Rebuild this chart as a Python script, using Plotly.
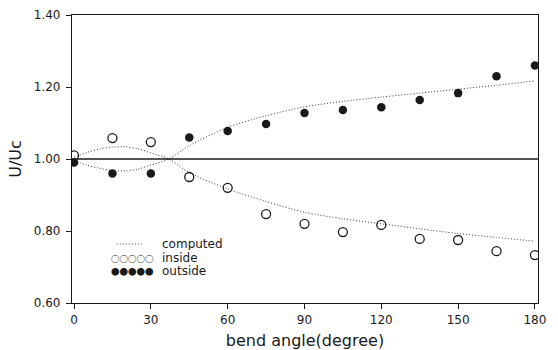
import plotly.graph_objects as go

# measured data
angle = [0, 15, 30, 45, 60, 75, 90, 105, 120, 135, 150, 165, 180]
inside = [1.01, 1.058, 1.047, 0.95, 0.92, 0.847, 0.82, 0.797, 0.817, 0.778, 0.775, 0.744, 0.733]
outside = [0.99, 0.96, 0.96, 1.06, 1.078, 1.097, 1.128, 1.136, 1.144, 1.164, 1.183, 1.23, 1.26]

# computed curves
comp_x = [0, 5, 10, 15, 20, 25, 30, 37, 45, 60, 75, 90, 105, 120, 135, 150, 165, 180]
comp_inside = [1.005, 1.018, 1.028, 1.033, 1.034, 1.028, 1.017, 1.0, 0.962, 0.917, 0.882, 0.852,
               0.834, 0.82, 0.806, 0.793, 0.782, 0.772]
comp_outside = [0.995, 0.983, 0.974, 0.968, 0.967, 0.972, 0.983, 1.0, 1.037, 1.088, 1.12, 1.145,
                1.16, 1.172, 1.183, 1.194, 1.205, 1.217]

x_ticks = [0, 30, 60, 90, 120, 150, 180]
y_ticks = [0.60, 0.80, 1.00, 1.20, 1.40]

INK = "#1a1a1a"
FONT = "DejaVu Sans"
DOT = "1px,2px"

fig = go.Figure()
line_style = dict(color="#333", width=1, dash=DOT, shape="spline", smoothing=0.8)
fig.add_trace(go.Scatter(x=comp_x, y=comp_inside, mode="lines", line=line_style, name="computed"))
fig.add_trace(go.Scatter(x=comp_x, y=comp_outside, mode="lines", line=line_style, showlegend=False))
fig.add_trace(go.Scatter(x=angle, y=inside, mode="markers", name="inside",
                         marker=dict(symbol="circle-open", size=9, color=INK, line=dict(width=1.3, color=INK))))
fig.add_trace(go.Scatter(x=angle, y=outside, mode="markers", name="outside",
                         marker=dict(symbol="circle", size=8.5, color=INK)))

fig.add_hline(y=1.0, line=dict(color=INK, width=1.3))

axis_common = dict(showline=True, linecolor=INK, linewidth=1.2, mirror=True, ticks="outside",
                   ticklen=5, tickcolor=INK, showgrid=False, zeroline=False, automargin=False,
                   tickfont=dict(family=FONT, size=12, color=INK))

fig.update_layout(
    width=558, height=350,
    margin=dict(l=72, r=20, t=15, b=47),
    plot_bgcolor="white", paper_bgcolor="white",
    showlegend=False,
    xaxis=dict(range=[-0.8, 181.2], tickvals=x_ticks, ticktext=[str(v) for v in x_ticks],
               title=dict(text="bend angle(degree)", font=dict(family=FONT, size=16, color=INK), standoff=12),
               **axis_common),
    yaxis=dict(range=[0.6, 1.4], tickvals=y_ticks, ticktext=[f"{v:.2f}" for v in y_ticks],
               ticklabelstandoff=3,
               title=dict(text="U/Uc", font=dict(family=FONT, size=16, color=INK), standoff=8),
               **axis_common),
)

# legend drawn as text
legend_font = dict(family=FONT, size=12, color=INK)
sym_font = dict(family="Noto Sans CJK SC", size=8.5, color=INK, weight="bold")
rows = [0.205, 0.156, 0.111]
fig.add_shape(type="line", xref="paper", yref="paper", x0=0.096, x1=0.152, y0=rows[0], y1=rows[0],
              line=dict(color="#333", width=1, dash=DOT))
fig.add_annotation(xref="paper", yref="paper", x=0.189, y=rows[0], text="computed", showarrow=False,
                   xanchor="left", yanchor="middle", font=legend_font, height=12)
fig.add_annotation(xref="paper", yref="paper", x=0.079, y=rows[1], text="○○○○○", showarrow=False,
                   xanchor="left", yanchor="middle", font=sym_font, height=10)
fig.add_annotation(xref="paper", yref="paper", x=0.189, y=rows[1], text="inside", showarrow=False,
                   xanchor="left", yanchor="middle", font=legend_font, height=12)
fig.add_annotation(xref="paper", yref="paper", x=0.079, y=rows[2], text="●●●●●", showarrow=False,
                   xanchor="left", yanchor="middle", font=sym_font, height=10)
fig.add_annotation(xref="paper", yref="paper", x=0.189, y=rows[2], text="outside", showarrow=False,
                   xanchor="left", yanchor="middle", font=legend_font, height=12)

fig.write_html("out.html")
